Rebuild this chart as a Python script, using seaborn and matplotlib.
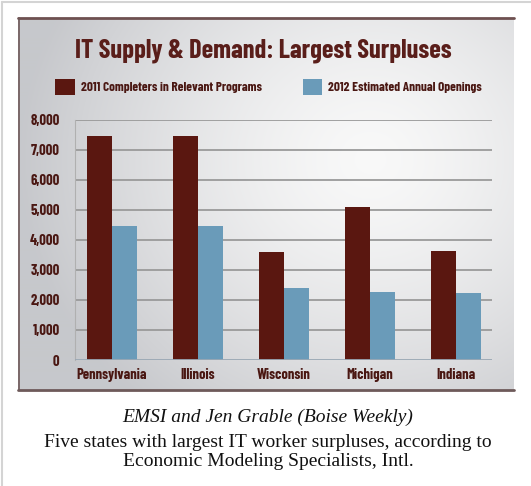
import numpy as np
import pandas as pd
import matplotlib
matplotlib.use("Agg")
import matplotlib.pyplot as plt
import seaborn as sns
from matplotlib.lines import Line2D

states = ["Pennsylvania", "Illinois", "Wisconsin", "Michigan", "Indiana"]
completers_2011 = [7470, 7470, 3600, 5100, 3630]
openings_2012 = [4470, 4470, 2400, 2270, 2230]
series_names = ["2011 Completers in Relevant Programs", "2012 Estimated Annual Openings"]
yticks = [0, 1000, 2000, 3000, 4000, 5000, 6000, 7000, 8000]
title = "IT Supply & Demand: Largest Surpluses"
caption_1 = "EMSI and Jen Grable (Boise Weekly)"
caption_2 = "Five states with largest IT worker surpluses, according to\nEconomic Modeling Specialists, Intl."

df = pd.DataFrame({
    "State": states * 2,
    "Value": completers_2011 + openings_2012,
    "Series": [series_names[0]] * len(states) + [series_names[1]] * len(states),
})

sns.set_theme(style="white")
NARROW = ["Barlow Condensed", "DejaVu Sans"]
SERIF = ["Liberation Serif", "DejaVu Serif"]
plt.rcParams["font.family"] = NARROW

W, H = 531, 486
fig = plt.figure(figsize=(W / 100, H / 100), dpi=100)
fig.patch.set_facecolor("white")

def fx(px):
    return px / W

def fy(py):
    return 1 - py / H

# outer thumbnail frame
fig.add_artist(Line2D([fx(2), fx(2)], [fy(2), 0], color="#d4d4d4", lw=1.5))
fig.add_artist(Line2D([fx(2), 1], [fy(2.5), fy(2.5)], color="#d4d4d4", lw=1.5))

# chart box with gradient background
bx0, by0, bx1, by1 = 18, 18, 514, 390
bg = fig.add_axes([fx(bx0), fy(by1), fx(bx1 - bx0), (by1 - by0) / H])
bw, bh = bx1 - bx0, by1 - by0
xx, yy = np.meshgrid(np.arange(bw), np.arange(bh))
cx, cy = 370 - bx0, 160 - by0
r = np.sqrt(((xx - cx) / 1.0) ** 2 + ((yy - cy) / 0.9) ** 2)
t = np.clip(r / 350.0, 0, 1) ** 1.4
c_in = np.array([0.975, 0.975, 0.975])
c_out = np.array([0.78, 0.785, 0.80])
img = c_in[None, None, :] * (1 - t[..., None]) + c_out[None, None, :] * t[..., None]
bg.imshow(img, aspect="auto", extent=[0, bw, bh, 0])
bg.set_xlim(0, bw)
bg.set_ylim(bh, 0)
bg.axis("off")

fig.add_artist(Line2D([fx(bx0), fx(bx1)], [fy(by0 + 0.5), fy(by0 + 0.5)], color="#6e5050", lw=2))
fig.add_artist(Line2D([fx(bx0 + 0.5), fx(bx0 + 0.5)], [fy(by0), fy(by1)], color="#6e5858", lw=1.2))
fig.add_artist(Line2D([fx(bx0), fx(bx1)], [fy(by1 - 0.5), fy(by1 - 0.5)], color="#6e5a5a", lw=2))

# main axes
ax = fig.add_axes([fx(75), fy(360), fx(492 - 75), (360 - 120) / H])
ax.patch.set_alpha(0)
red = "#5a1710"
blue = "#6a9bb9"
sns.barplot(data=df, x="State", y="Value", hue="Series", order=states,
            hue_order=series_names, palette=[red, blue], width=0.58,
            saturation=1, ax=ax, zorder=3, linewidth=0, edgecolor="none")
ax.set_xlim(-0.43, 4.42)
ax.set_ylim(0, 8000)
ax.set_yticks(yticks)
ax.set_yticklabels([f"{v:,}" for v in yticks])
for v in yticks[1:]:
    ax.axhline(v, color="#9a9a9a", lw=1.3, zorder=1)
ax.axhline(0, color="#9aa8b4", lw=1.3, zorder=4)
for s in ["top", "right", "bottom"]:
    ax.spines[s].set_visible(False)
ax.spines["left"].set_color("#b0b0b0")
ax.spines["left"].set_linewidth(0.8)
ax.set_xlabel("")
ax.set_ylabel("")
txt_col = "#4a1712"
ax.tick_params(axis="y", length=0, pad=11, labelsize=10.5, labelcolor=txt_col)
ax.tick_params(axis="x", length=0, pad=6, labelsize=10.5, labelcolor=txt_col)
for lab in ax.get_yticklabels() + ax.get_xticklabels():
    lab.set_fontweight("bold")
    lab.set_family(NARROW)

handles, labels = ax.get_legend_handles_labels()
ax.legend(handles, labels, ncol=2, loc="center left",
          bbox_to_anchor=(fx(55), fy(87)), bbox_transform=fig.transFigure,
          frameon=False, handlelength=1.5, handleheight=1.4, handletextpad=0.45,
          columnspacing=3.1, borderpad=0, borderaxespad=0,
          prop={"family": NARROW, "weight": "bold", "size": 9.5})
for tx in ax.get_legend().get_texts():
    tx.set_color(txt_col)

fig.text(fx(263), fy(51), title, ha="center", va="center", fontsize=19,
         fontweight="bold", color="#5a1e1a", family=NARROW)

fig.text(fx(268), fy(417), caption_1, ha="center", va="center", fontsize=14,
         style="italic", color="#111111", family=SERIF)
fig.text(fx(268), fy(452), caption_2, ha="center", va="center", fontsize=14,
         color="#111111", family=SERIF, linespacing=1.08)

fig.savefig("out.png", dpi=100)
